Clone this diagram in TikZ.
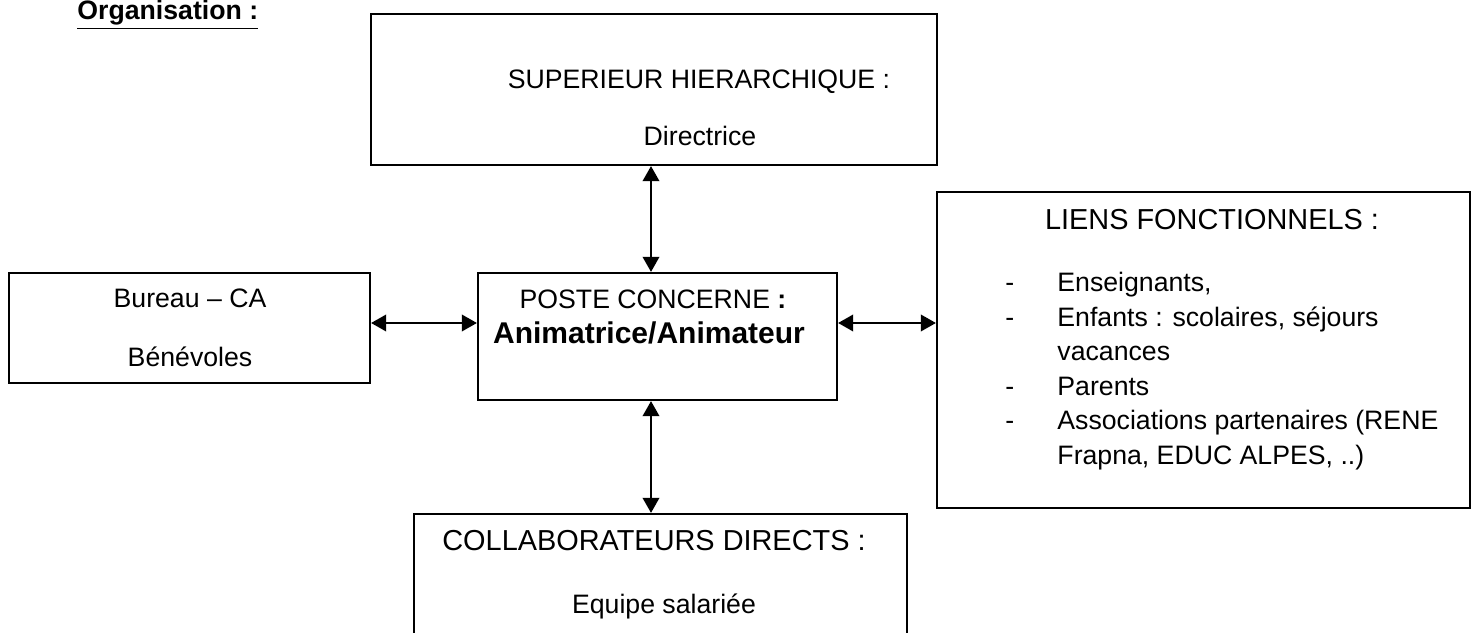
\documentclass[tikz,border=0pt]{standalone}
\usepackage{fontspec}
\setmainfont{Liberation Sans}
\usetikzlibrary{
    arrows.meta,
    fit
}

\begin{document}
\begin{tikzpicture}[
            x=0.45pt, y=-0.45pt,
            box/.style={rectangle, draw, line width=1pt, inner sep=0pt},
            label_text/.style={inner sep=0pt, anchor=base, font=\fontsize{12}{14}\selectfont},
            head_text/.style={inner sep=0pt, anchor=base, font=\fontsize{13}{15}\selectfont},
            list_text/.style={inner sep=0pt, anchor=base west, font=\fontsize{12}{15.5}\selectfont},
            link_arrow/.style={{Triangle[length=6.8pt,width=7.5pt]}-{Triangle[length=6.8pt,width=7.5pt]}, line width=0.8pt}
        ]
        \useasboundingbox (0,0) rectangle (1471,633);
        \clip (0,0) rectangle (1471,633);

        \node[label_text, anchor=base west, font=\bfseries\fontsize{12}{14}\selectfont] (titre) at (77,20) {\underline{Organisation :}};

        % boxes
        \node[box, fit={(371,14) (937,165)}] (superieur) {};
        \node[box, fit={(9,273) (370,383)}] (bureau) {};
        \node[box, fit={(478,273) (837,400)}] (poste) {};
        \node[box, fit={(937,192) (1470,508)}] (liens) {};
        \node[box, fit={(414,514) (907,660)}] (collab) {};

        % texts
        \node[label_text] (sup_title) at (699,89) {SUPERIEUR HIERARCHIQUE :};
        \node[label_text] (sup_name) at (700,146) {Directrice};

        \node[label_text] (bureau_ca) at (190,308) {Bureau – CA};
        \node[label_text] (benevoles) at (190,367) {Bénévoles};

        \node[label_text] (poste_title) at (653,309) {POSTE CONCERNE \textbf{:}};
        \node[label_text, font=\bfseries\fontsize{13.5}{16}\selectfont] (poste_name) at (649,344) {Animatrice/Animateur};

        \node[head_text] (liens_title) at (1212,230) {LIENS FONCTIONNELS :};
        \node[list_text] (liens_list) at (1005,292) {%
            \begin{tabular}[t]{@{}p{23.4pt}@{}l@{}}
            - & Enseignants,\\
            - & Enfants : scolaires, séjours\\
              & vacances\\
            - & Parents\\
            - & Associations partenaires (RENE\\
              & Frapna, EDUC ALPES, ..)
            \end{tabular}};

        \node[head_text] (collab_title) at (654,550) {COLLABORATEURS DIRECTS :};
        \node[label_text] (collab_name) at (664,613) {Equipe salariée};

        % links
        \coordinate (vx) at (651,0);
        \coordinate (hy) at (0,323);
        \draw[link_arrow] (superieur.south -| vx) -- (poste.north -| vx);
        \draw[link_arrow] (poste.south -| vx) -- (collab.north -| vx);
        \draw[link_arrow] (bureau.east |- hy) -- (poste.west |- hy);
        \draw[link_arrow] (poste.east |- hy) -- (liens.west |- hy);

\end{tikzpicture}
\end{document}
